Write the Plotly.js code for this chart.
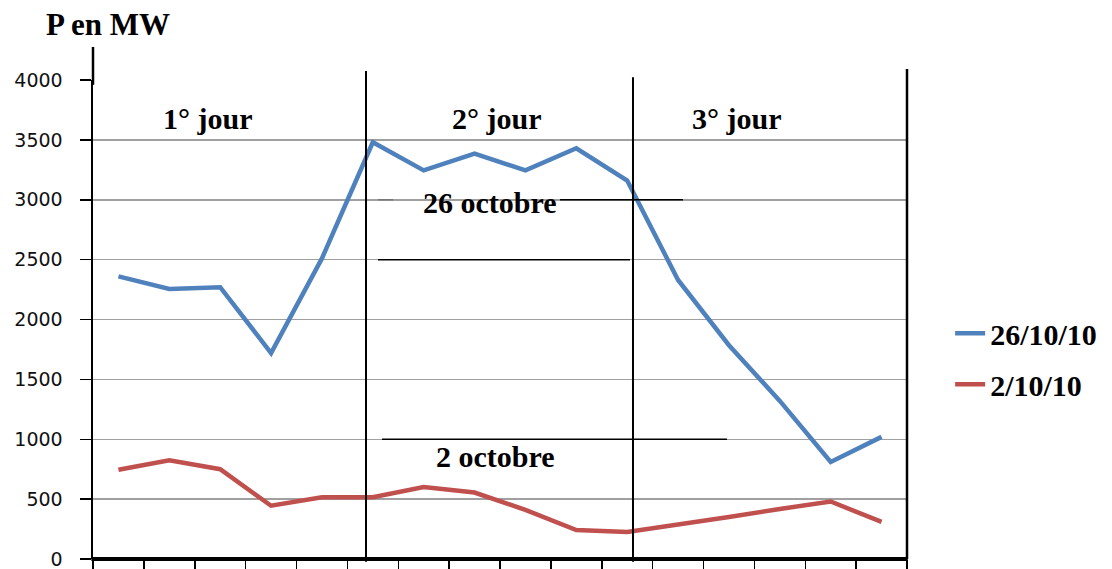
<!DOCTYPE html>
<html>
<head>
<meta charset="utf-8">
<script src="https://cdn.plot.ly/plotly-3.0.1.min.js"></script>
<style>html,body{margin:0;padding:0;background:#fff;overflow:hidden;}#chart{width:1112px;height:569px;}</style>
</head>
<body>
<div id="chart"></div>
<script>
// Time steps (16 points across the three days)
const steps = [1, 2, 3, 4, 5, 6, 7, 8, 9, 10, 11, 12, 13, 14, 15, 16];
// Power in MW, 26/10/10
const power261010 = [2360, 2255, 2270, 1720, 2510, 3480, 3245, 3385, 3245, 3430, 3160, 2330, 1785, 1320, 810, 1020];
// Power in MW, 2/10/10
const power021010 = [745, 825, 750, 445, 515, 515, 601, 555, 410, 242, 225, 284, 350, 418, 480, 310];
const seriesNames = ['26/10/10', '2/10/10'];
const dayLabels = ['1° jour', '2° jour', '3° jour'];
const curveLabels = ['26 octobre', '2 octobre'];
const yTicks = [0, 500, 1000, 1500, 2000, 2500, 3000, 3500, 4000];

const serif = 'Liberation Serif, Times New Roman, serif';
const blue = '#4F81BD', red = '#C0504D';

// tick boundaries between steps
const bounds = [];
for (let i = 0; i <= steps.length; i++) bounds.push(steps[0] - 0.5 + i);

const traces = [
  {x: steps, y: power261010, name: seriesNames[0], type: 'scatter', mode: 'lines',
   line: {color: blue, width: 4.5}, legendgroup: 'a', cliponaxis: false},
  {x: steps, y: power021010, name: seriesNames[1], type: 'scatter', mode: 'lines',
   line: {color: red, width: 4.5}, legendgroup: 'b', cliponaxis: false}
];

const blk = {color: '#000', width: 1.5};
const shapes = [
  // bottom axis line (thick)
  {type: 'line', xref: 'paper', yref: 'paper', x0: -0.002, x1: 1.001, y0: 0, y1: 0, line: {color: '#000', width: 4}},
  // day separators
  {type: 'line', xref: 'x', yref: 'paper', x0: 5.866, x1: 5.866, y0: -0.006, y1: 1.019, line: {color: '#000', width: 2}},
  {type: 'line', xref: 'x', yref: 'paper', x0: 11.114, x1: 11.114, y0: -0.006, y1: 1.006, line: {color: '#000', width: 2}},
  // right border
  {type: 'line', xref: 'paper', yref: 'paper', x0: 1, x1: 1, y0: 0, y1: 1.023, line: {color: '#000', width: 2.5}},
  // left axis extension
  {type: 'line', xref: 'paper', yref: 'paper', x0: 0, x1: 0, y0: 0.99, y1: 1.069, line: {color: '#000', width: 2.5}},
  // hand-drawn label lines
  {type: 'line', xref: 'x', yref: 'y', x0: 9.679, x1: 12.097, y0: 3000, y1: 3000, line: blk},
  {type: 'line', xref: 'x', yref: 'y', x0: 6.102, x1: 6.40, y0: 3000, y1: 3000, line: {color: '#777', width: 1.5}},
  {type: 'line', xref: 'x', yref: 'y', x0: 6.102, x1: 11.055, y0: 2500, y1: 2500, line: blk},
  {type: 'line', xref: 'x', yref: 'y', x0: 6.18, x1: 12.962, y0: 1000, y1: 1000, line: blk}
];

const annFont = {family: serif, size: 30, color: '#000', weight: 'bold'};
const annotations = [
  {xref: 'x', yref: 'y', x: 2.76, y: 3680, text: dayLabels[0], showarrow: false, font: annFont},
  {xref: 'x', yref: 'y', x: 8.44, y: 3680, text: dayLabels[1], showarrow: false, font: annFont},
  {xref: 'x', yref: 'y', x: 13.16, y: 3680, text: dayLabels[2], showarrow: false, font: annFont},
  {xref: 'x', yref: 'y', x: 8.30, y: 2975, text: curveLabels[0], showarrow: false, font: annFont},
  {xref: 'x', yref: 'y', x: 8.42, y: 860, text: curveLabels[1], showarrow: false, font: annFont}
];

const layout = {
  width: 1112, height: 569,
  margin: {l: 93, r: 205, t: 80, b: 10, pad: 0},
  paper_bgcolor: '#fff', plot_bgcolor: '#fff',
  title: {text: 'P en MW', x: 46 / 1112, xanchor: 'left', xref: 'container',
          y: 1 - 24 / 569, yanchor: 'middle', yref: 'container',
          font: {family: serif, size: 31, color: '#000', weight: 'bold'}},
  xaxis: {range: [bounds[0], bounds[bounds.length - 1]], tickmode: 'array', tickvals: bounds,
          ticktext: bounds.map(() => ''), ticks: 'outside', ticklen: 10, tickwidth: 1.5, tickcolor: '#000',
          showgrid: false, zeroline: false, showline: false,
          fixedrange: true},
  yaxis: {range: [0, 4000], tickmode: 'array', tickvals: yTicks, ticks: 'outside', ticklen: 11,
          tickwidth: 1.5, tickcolor: '#000', ticklabelstandoff: 13, ticklabeloverflow: 'allow',
          tickfont: {family: 'DejaVu Sans, Verdana, sans-serif', size: 19, color: '#111'},
          showgrid: true, gridcolor: '#a0a0a0', gridwidth: 1.5, zeroline: false,
          showline: true, linecolor: '#000', linewidth: 2.5, fixedrange: true},
  showlegend: true,
  legend: {x: 1.053, xanchor: 'left', y: 0.418, yanchor: 'middle', traceorder: 'grouped', tracegroupgap: 9,
           font: {family: serif, size: 30, color: '#000', weight: 'bold'}, bgcolor: 'rgba(0,0,0,0)'},
  shapes: shapes,
  annotations: annotations
};

Plotly.newPlot('chart', traces, layout, {displayModeBar: false, staticPlot: true});
</script>
</body>
</html>
